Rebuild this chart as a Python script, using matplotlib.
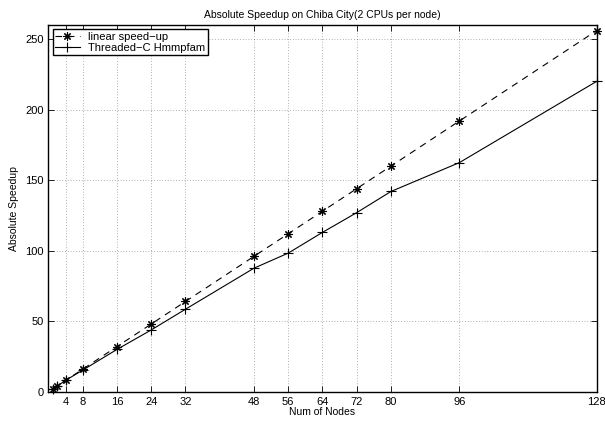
import matplotlib
matplotlib.use("Agg")
import matplotlib.pyplot as plt

plt.rcParams['font.family'] = ['Liberation Sans', 'DejaVu Sans']

# Данные: число узлов и ускорение
nodes = [1, 2, 4, 8, 16, 24, 32, 48, 56, 64, 72, 80, 96, 128]
linear = [2, 4, 8, 16, 32, 48, 64, 96, 112, 128, 144, 160, 192, 256]
threaded = [1.9, 3.8, 8.1, 15.3, 30, 43.8, 58.5, 87.6, 98.3, 113, 127, 142, 162.5, 220]
xticks = [4, 8, 16, 24, 32, 48, 56, 64, 72, 80, 96, 128]
yticks = [0, 50, 100, 150, 200, 250]

fig = plt.figure(figsize=(6.05, 4.24), dpi=100)
ax = fig.add_axes([0.080, 0.076, 0.906, 0.865])

# звёздочка как в MATLAB: + и x вместе
ax.plot(nodes, linear, color='black', linestyle=(0, (6, 5)), linewidth=0.8,
        marker=(8, 2, 0), markersize=6, markeredgewidth=0.8,
        label='linear speed\u2212up', clip_on=False)
ax.plot(nodes, threaded, color='black', linestyle='-', linewidth=0.8,
        marker='+', markersize=6.5, markeredgewidth=0.8, label='Threaded\u2212C Hmmpfam',
        clip_on=False)

ax.set_xlim(0, 128)
ax.set_ylim(0, 260)
ax.set_xticks(xticks)
ax.set_yticks(yticks)
ax.tick_params(direction='in', top=True, right=True, labelsize=8, length=4, width=0.6)
ax.grid(True, linestyle=(0, (1, 3)), color='black', linewidth=0.5, alpha=0.6)
for s in ax.spines.values():
    s.set_linewidth(1.0)

ax.set_title('Absolute Speedup on Chiba City(2 CPUs per node)', fontsize=7.5, pad=5)
ax.set_xlabel('Num of Nodes', fontsize=7.5, labelpad=0)
ax.set_ylabel('Absolute Speedup', fontsize=7.5, labelpad=4)

leg = ax.legend(loc='upper left', fontsize=8, fancybox=False, framealpha=1,
                edgecolor='black', borderpad=0.2, handlelength=2.2,
                labelspacing=0.1, borderaxespad=0.4)
leg.get_frame().set_linewidth(1.0)

fig.savefig('out.png', dpi=100)
